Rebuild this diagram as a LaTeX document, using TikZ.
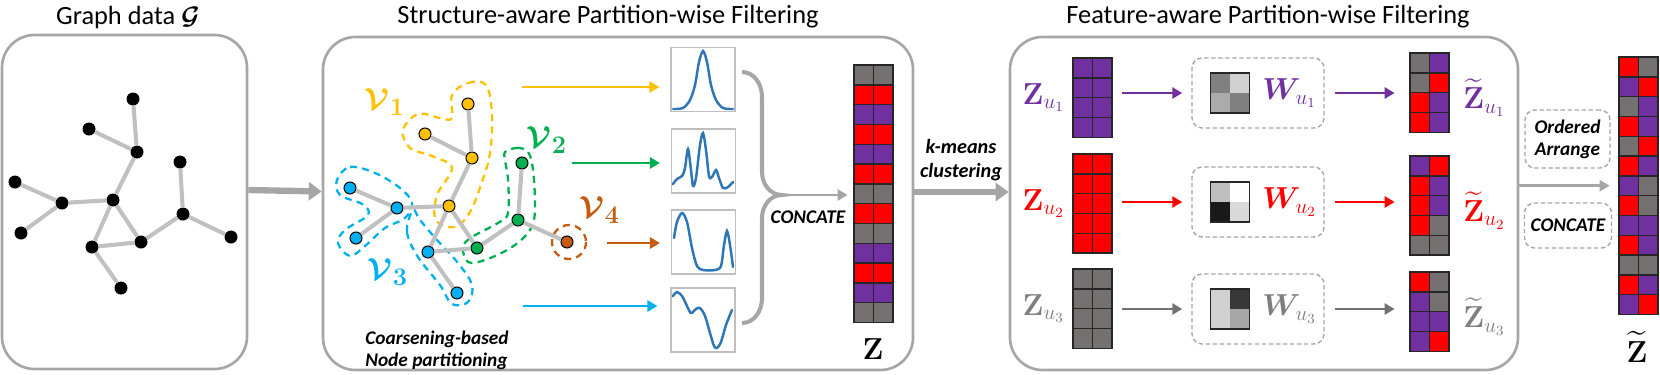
\documentclass[tikz,border=0pt]{standalone}
\usepackage{amsmath,amssymb,bm}
\usepackage[no-math]{fontspec}
\setmainfont{Carlito}
\usetikzlibrary{arrows.meta,positioning,calc}
\definecolor{gfylw}{HTML}{FFC000}
\definecolor{gfgrn}{HTML}{00B050}
\definecolor{gfblu}{HTML}{00B0F0}
\definecolor{gforg}{HTML}{C55A11}
\definecolor{zp}{HTML}{7030A0}
\definecolor{zr}{HTML}{FF0000}
\definecolor{zg}{HTML}{767171}
\definecolor{zl}{HTML}{7F7F7F}
\definecolor{gfframe}{HTML}{A6A6A6}
\definecolor{gfedgec}{HTML}{C0C0C0}
\definecolor{gffilterc}{HTML}{BFBFBF}
\definecolor{gfcurvec}{HTML}{2E75B6}
\tikzset{
  gfpanel/.style={draw=gfframe, line width=1.5pt, rounded corners=6.5mm, inner sep=0pt},
  gftitle/.style={font=\fontsize{15}{18}\selectfont, inner sep=1pt},
  gfedge/.style={draw=gfedgec, line width=2.3pt},
  gfdot/.style={circle, fill=black, inner sep=0pt, minimum size=2.6mm},
  gfpart/.style={circle, draw=black, line width=0.6pt, inner sep=0pt, minimum size=2.4mm},
  gfhull/.style={line width=1.3pt, dash pattern=on 4pt off 3pt},
  gfbig/.style={-{Triangle[length=2.6mm,width=3.6mm]}, draw=gfframe, line width=3.6pt},
  gfarrow/.style={-{Triangle[length=2mm,width=2.2mm]}, line width=1.5pt},
  gffilter/.style={draw=gffilterc, line width=0.6pt, minimum size=12.8mm, inner sep=0pt},
  gfcurve/.style={draw=gfcurvec, line width=1.4pt, line cap=round},
  gfcell/.style={draw=black!85, line width=0.8pt},
  gfnote/.style={font=\fontsize{11}{12.5}\selectfont\bfseries\itshape, inner sep=1pt},
  gfmath/.style={font=\fontsize{17}{20}\selectfont, inner sep=1pt},
  gfdash/.style={draw=gfframe, line width=0.8pt, dash pattern=on 2.5pt off 1.5pt, rounded corners=2mm, inner sep=0pt},
  gfw/.style n args={4}{draw=black!85, line width=0.8pt, minimum width=7.8mm, minimum height=8mm, inner sep=0pt,
    path picture={
      \fill[#1] (path picture bounding box.north west) rectangle (path picture bounding box.center);
      \fill[#2] (path picture bounding box.north east) rectangle (path picture bounding box.center);
      \fill[#3] (path picture bounding box.south west) rectangle (path picture bounding box.center);
      \fill[#4] (path picture bounding box.south east) rectangle (path picture bounding box.center);}},
}
% column of 2 x n cells: name, centre x, top y, rows, colour pairs
\newcommand{\gfcol}[5]{%
  \foreach \colL/\colR [count=\i from 0] in {#5} {
    \filldraw[gfcell, fill=\colL] (#2-19.5,#3+\i*19.8) rectangle ++(19.5,19.8);
    \filldraw[gfcell, fill=\colR] (#2,#3+\i*19.8) rectangle ++(19.5,19.8);
  }
  \node[inner sep=0pt, minimum width=7.8mm, minimum height=#4*3.96mm] (#1) at (#2,#3+#4*9.9) {};
}

\begin{document}
\begin{tikzpicture}[x=0.2mm, y=-0.2mm]
  \useasboundingbox (0,0) rectangle (1660,374);

  % panels and titles
  \node[gfpanel, minimum width=49mm, minimum height=66.8mm] (pg) at (124.5,202) {};
  \node[gfpanel, minimum width=118mm, minimum height=66.6mm] (ps) at (618,203.5) {};
  \node[gfpanel, minimum width=101.6mm, minimum height=66.6mm] (pf) at (1264,203.5) {};
  \node[gftitle] (tg) at (128,17) {Graph data $\bm{\mathcal{G}}$};
  \node[gftitle] (ts) at (608,17) {Structure-aware Partition-wise Filtering};
  \node[gftitle] (tf) at (1268,17) {Feature-aware Partition-wise Filtering};

  % graph data
  \foreach \n/\px/\py in {ga/133/99, gb/89/129, gc/137/152, gd/180/162, ge/15/182, gf/62/203, gg/113/200,
      gh/183/214, gi/21/233, gj/231/237, gk/92/247, gl/141/242, gm/121/288}
    \node[gfdot] (\n) at (\px,\py) {};
  \foreach \a/\b in {ga/gc, gb/gc, gc/gg, ge/gf, gf/gi, gf/gg, gg/gk, gg/gl, gk/gl, gk/gm, gl/gh, gh/gd, gh/gj}
    \draw[gfedge] (\a) -- (\b);
  \draw[gfbig] ([yshift=2.4mm]pg.east) -- ([yshift=2.4mm]ps.west);

  % partitions
  \draw[gfhull, gfylw] plot[smooth cycle, tension=0.6] coordinates {(452,95) (468,83) (486,85) (492,115) (490,153)
      (482,182) (470,212) (455,227) (436,220) (437,195) (452,168) (432,156) (410,148) (403,130) (418,114) (440,118) (452,118)};
  \draw[gfhull, gfblu] plot[smooth cycle, tension=0.6] coordinates {(337,180) (350,167) (375,173) (400,188) (412,203)
      (405,218) (385,228) (365,246) (350,256) (338,243) (345,230) (368,215) (362,204) (340,195)};
  \draw[gfhull, gfblu] plot[smooth cycle, tension=0.6] coordinates {(413,210) (407,232) (418,257) (440,285) (452,304)
      (468,302) (472,285) (458,263) (437,240) (420,220)};
  \draw[gfhull, gfgrn] plot[smooth cycle, tension=0.6] coordinates {(505,152) (517,148) (528,152) (533,170) (535,210)
      (530,230) (512,247) (485,260) (468,262) (463,247) (472,237) (498,223) (508,213) (508,180) (505,160)};
  \draw[gfhull, gforg] (569,242) circle[radius=17];
  \foreach \n/\c/\px/\py in {y1/gfylw/468/104, y2/gfylw/425/134, y3/gfylw/472/158, y4/gfylw/449/206,
      b1/gfblu/350/188, b2/gfblu/397/208, b3/gfblu/356/238, b4/gfblu/428/252, b5/gfblu/457/293,
      n1/gfgrn/522/163, n2/gfgrn/518/220, n3/gfgrn/477/248, o1/gforg/567/242}
    \node[gfpart, fill=\c] (\n) at (\px,\py) {};
  \foreach \a/\b in {y1/y3, y2/y3, y3/y4, b1/b2, b2/b3, b2/y4, y4/b4, y4/n3, b4/n3, b4/b5, n3/n2, n2/n1, n2/o1}
    \draw[gfedge] (\a) -- (\b);
  \node[gfmath, font=\fontsize{19}{22}\selectfont, text=gfylw] (v1) at (385,102) {$\bm{\mathcal{V}}_{\bm{1}}$};
  \node[gfmath, font=\fontsize{19}{22}\selectfont, text=gfgrn] (v2) at (547,140) {$\bm{\mathcal{V}}_{\bm{2}}$};
  \node[gfmath, font=\fontsize{19}{22}\selectfont, text=gforg] (v4) at (600,210) {$\bm{\mathcal{V}}_{\bm{4}}$};
  \node[gfmath, font=\fontsize{19}{22}\selectfont, text=gfblu] (v3) at (388,272) {$\bm{\mathcal{V}}_{\bm{3}}$};
  \node[gfnote, align=left] (cn) at (437,350) {Coarsening-based\\Node partitioning};

  % filters
  \node[gffilter] (f1) at (703,79.5) {};
  \node[gffilter] (f2) at (703.5,161) {};
  \node[gffilter] (f3) at (703.5,242) {};
  \node[gffilter] (f4) at (703,320) {};
  \draw[gfcurve] plot[smooth] coordinates {(673,109) (683,108) (690,100) (695,85) (699,62) (703,51) (707,62) (711,85)
      (716,100) (723,108) (733,109)};
  \draw[gfcurve] plot[smooth] coordinates {(673,184) (677,179) (682,176) (685,168) (688,149) (691,170) (693,186) (696,178)
      (700,145) (703,133) (706,150) (709,176) (712,177) (716,170) (719,178) (723,188) (728,187) (733,182)};
  \draw[gfcurve] plot[smooth] coordinates {(674,238) (677,222) (682,213) (687,222) (692,248) (697,266) (703,270) (715,270)
      (721,266) (724,245) (727,231) (730,245) (733,267)};
  \draw[gfcurve] plot[smooth] coordinates {(673,296) (677,292) (682,296) (687,306) (691,313) (696,309) (700,308) (705,316)
      (710,333) (714,346) (717,348) (721,342) (726,325) (732,310)};
  \coordinate (sy) at (522,87);
  \coordinate (sg) at (572,163);
  \coordinate (so) at (607,243);
  \coordinate (sb) at (523,306);
  \draw[gfarrow, color=gfylw, shorten >=2.2mm] (sy) -- (sy -| f1.west);
  \draw[gfarrow, color=gfgrn, shorten >=2.2mm] (sg) -- (sg -| f2.west);
  \draw[gfarrow, color=gforg, shorten >=2.2mm] (so) -- (so -| f3.west);
  \draw[gfarrow, color=gfblu, shorten >=2.6mm] (sb) -- (sb -| f4.west);

  % concatenation into Z
  \gfcol{z}{873.5}{65}{13}{zg/zg, zr/zr, zp/zp, zr/zr, zp/zp, zr/zr, zg/zg, zr/zr, zg/zg, zp/zp, zr/zr, zp/zp, zg/zg}
  \draw[draw=gfframe, line width=2.3pt] (742,72) to[out=0,in=90] (762,97) -- (762,172) to[out=-90,in=180] (782,195)
      to[out=180,in=90] (762,218) -- (762,298) to[out=-90,in=0] (742,323);
  \coordinate (br) at (782,195);
  \draw[gfarrow, color=gfframe, shorten >=1.2mm] (br) -- (br -| z.west);
  \node[gfnote] (cz) at (808,217) {CONCATE};
  \node[gfmath, font=\fontsize{19}{22}\selectfont] (zt) at (873,349) {$\mathbf{Z}$};
  \node[gfnote, align=center, font=\fontsize{11.5}{14}\selectfont\bfseries\itshape] (km) at (961,160) {k-means\\clustering};
  \draw[gfbig] ([yshift=2.3mm]ps.east) -- ([yshift=2.3mm]pf.west);

  % feature-aware filtering
  \gfcol{zu1}{1092.5}{58}{4}{zp/zp, zp/zp, zp/zp, zp/zp}
  \gfcol{zu2}{1092.5}{154}{5}{zr/zr, zr/zr, zr/zr, zr/zr, zr/zr}
  \gfcol{zu3}{1092.5}{269}{4}{zg/zg, zg/zg, zg/zg, zg/zg}
  \node[gfmath, text=zp, anchor=east] (lu1) at ([xshift=-1.2mm]zu1.west) {$\mathbf{Z}_{u_1}$};
  \node[gfmath, text=zr, anchor=east] (lu2) at ([xshift=-1.2mm]zu2.west) {$\mathbf{Z}_{u_2}$};
  \node[gfmath, text=zl, anchor=east] (lu3) at ([xshift=-1.2mm]zu3.west) {$\mathbf{Z}_{u_3}$};

  \node[gfdash, minimum width=26.4mm, minimum height=14mm] (wb1) at (1258,93) {};
  \node[gfdash, minimum width=26.4mm, minimum height=14mm] (wb2) at (1258,202) {};
  \node[gfdash, minimum width=26.4mm, minimum height=14mm] (wb3) at (1258,309) {};
  \node[gfw={black!50}{black!18}{black!33}{black!50}] (wm1) at (1230,93) {};
  \node[gfw={black!25}{white}{black!90}{black!15}] (wm2) at (1230,202) {};
  \node[gfw={black!18}{black!78}{black!18}{black!35}] (wm3) at (1230,309) {};
  \node[gfmath, text=zp, anchor=west] (wl1) at ([xshift=2mm]wm1.east) {$\bm{W}_{u_1}$};
  \node[gfmath, text=zr, anchor=west] (wl2) at ([xshift=2mm]wm2.east) {$\bm{W}_{u_2}$};
  \node[gfmath, text=zl, anchor=west] (wl3) at ([xshift=2mm]wm3.east) {$\bm{W}_{u_3}$};

  \gfcol{zt1}{1429.5}{53}{4}{zg/zp, zg/zr, zr/zp, zr/zp}
  \gfcol{zt2}{1429.5}{156}{5}{zp/zr, zr/zp, zr/zp, zr/zg, zg/zg}
  \gfcol{zt3}{1429.5}{272}{4}{zr/zg, zp/zg, zp/zp, zp/zr}
  \node[gfmath, text=zp, anchor=west] (lt1) at ([xshift=2.4mm,yshift=-1mm]zt1.east) {$\widetilde{\mathbf{Z}}_{u_1}$};
  \node[gfmath, text=zr, anchor=west] (lt2) at ([xshift=2.4mm,yshift=-1mm]zt2.east) {$\widetilde{\mathbf{Z}}_{u_2}$};
  \node[gfmath, text=zl, anchor=west] (lt3) at ([xshift=2.4mm,yshift=-1mm]zt3.east) {$\widetilde{\mathbf{Z}}_{u_3}$};

  \draw[gfarrow, color=zp, shorten <=2mm, shorten >=1.8mm] (zu1.east |- wb1.west) -- (wb1.west);
  \draw[gfarrow, color=zr, shorten <=2mm, shorten >=1.8mm] (zu2.east |- wb2.west) -- (wb2.west);
  \draw[gfarrow, color=zg, shorten <=2mm, shorten >=1.8mm] (zu3.east |- wb3.west) -- (wb3.west);
  \draw[gfarrow, color=zp, shorten <=2mm, shorten >=3mm] (wb1.east) -- (wb1.east -| zt1.west);
  \draw[gfarrow, color=zr, shorten <=2mm, shorten >=3mm] (wb2.east) -- (wb2.east -| zt2.west);
  \draw[gfarrow, color=zg, shorten <=2mm, shorten >=3mm] (wb3.east) -- (wb3.east -| zt3.west);

  % ordered arrange into final Z
  \gfcol{zf}{1638.5}{57}{13}{zr/zg, zp/zr, zg/zp, zr/zp, zg/zr, zr/zp, zp/zg, zr/zg, zp/zp, zr/zp, zg/zg, zr/zp, zp/zr}
  \draw[gfarrow, color=gfframe, shorten >=1.8mm] (pf.east |- zf.west) -- (zf.west);
  \node[gfdash, gfnote, minimum width=17mm, minimum height=11.6mm, align=center] (oa) at (1567.5,139) {Ordered\\Arrange};
  \node[gfdash, gfnote, minimum width=17.4mm, minimum height=9mm] (cc) at (1568,225.5) {CONCATE};
  \node[gfmath, font=\fontsize{19}{22}\selectfont] (zfl) at (1637,347) {$\widetilde{\mathbf{Z}}$};
\end{tikzpicture}
\end{document}
